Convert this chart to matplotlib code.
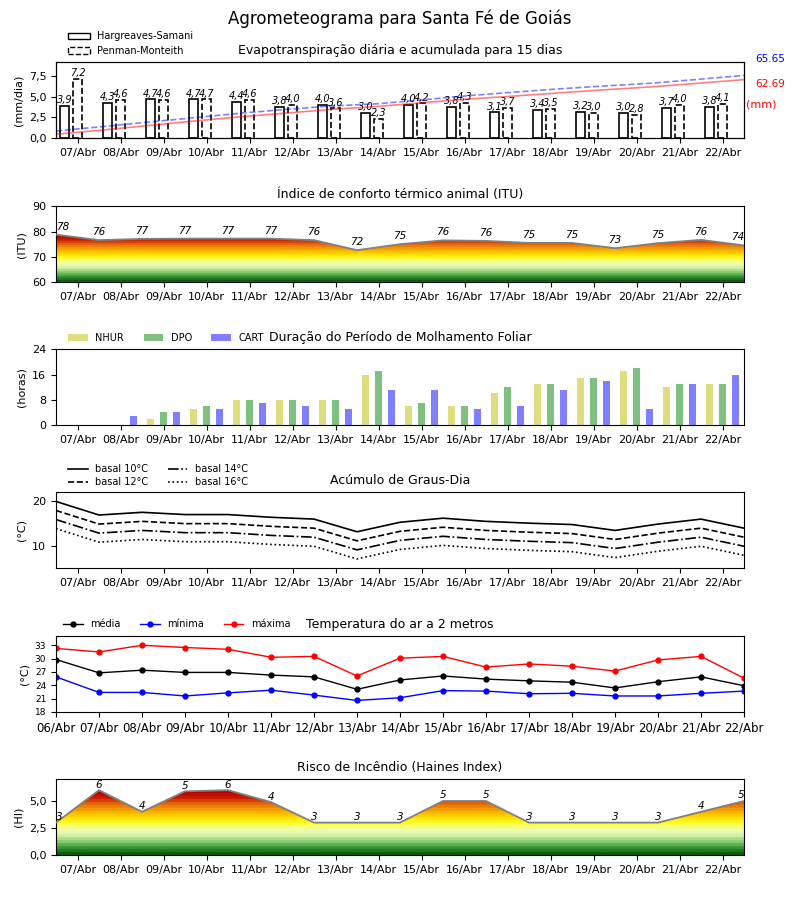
import numpy as np
import matplotlib
matplotlib.use('Agg')
import matplotlib.pyplot as plt
from matplotlib.patches import Patch
from matplotlib.colors import LinearSegmentedColormap


# Dados
dias = ['07/Abr', '08/Abr', '09/Abr', '10/Abr', '11/Abr', '12/Abr', '13/Abr', '14/Abr',
        '15/Abr', '16/Abr', '17/Abr', '18/Abr', '19/Abr', '20/Abr', '21/Abr', '22/Abr']
dias_temp = ['06/Abr'] + dias

et_hs = [3.9, 4.3, 4.7, 4.7, 4.4, 3.8, 4.0, 3.0, 4.0, 3.8, 3.1, 3.4, 3.2, 3.0, 3.7, 3.8]
et_pm = [7.2, 4.6, 4.6, 4.7, 4.6, 4.0, 3.6, 2.3, 4.2, 4.3, 3.7, 3.5, 3.0, 2.8, 4.0, 4.1]
total_pm = 65.65
total_hs = 62.69

itu = [78.8, 76.6, 77.1, 77.2, 77.2, 77.2, 76.6, 72.6, 75.0, 76.5, 76.3, 75.5,
       75.5, 73.4, 75.4, 76.7, 74.5]

nhur = [0, 0, 2, 5, 8, 8, 8, 16, 6, 6, 10, 13, 15, 17, 12, 13]
dpo = [0, 0, 4, 6, 8, 8, 8, 17, 7, 6, 12, 13, 15, 18, 13, 13]
cart = [0, 3, 4, 5, 7, 6, 5, 11, 11, 5, 6, 11, 14, 5, 13, 16]

gd10 = [19.8, 16.8, 17.4, 16.9, 16.9, 16.3, 15.9, 13.1, 15.2, 16.1, 15.4, 15.0,
        14.7, 13.4, 14.8, 15.9, 13.9]
gd12 = [17.8, 14.8, 15.4, 14.9, 14.9, 14.3, 13.9, 11.1, 13.2, 14.1, 13.4, 13.0,
        12.7, 11.4, 12.8, 13.9, 11.9]
gd14 = [15.8, 12.8, 13.4, 12.9, 12.9, 12.3, 11.9, 9.1, 11.2, 12.1, 11.4, 11.0,
        10.7, 9.4, 10.8, 11.9, 9.9]
gd16 = [13.8, 10.8, 11.4, 10.9, 10.9, 10.3, 9.9, 7.1, 9.2, 10.1, 9.4, 9.0,
        8.7, 7.4, 8.8, 9.9, 7.9]

t_med = [29.8, 26.8, 27.4, 26.9, 26.9, 26.3, 25.9, 23.1, 25.2, 26.1, 25.4, 25.0,
         24.7, 23.4, 24.8, 25.9, 23.9]
t_min = [25.9, 22.4, 22.4, 21.6, 22.3, 22.9, 21.8, 20.6, 21.2, 22.8, 22.7, 22.1,
         22.2, 21.6, 21.6, 22.2, 22.7]
t_max = [32.3, 31.5, 33.0, 32.5, 32.1, 30.3, 30.5, 26.1, 30.1, 30.5, 28.1, 28.8,
         28.3, 27.2, 29.7, 30.5, 25.6]

haines = [3.0, 6.0, 4.0, 5.9, 6.0, 4.9, 3.0, 3.0, 3.0, 5.0, 5.0, 3.0, 3.0, 3.0,
          3.0, 4.0, 5.0]


def virgula(v, fmt='{:.1f}'):
    return fmt.format(v).replace('.', ',')


cmap_risco = LinearSegmentedColormap.from_list(
    'risco', ['#0b5e0b', '#3a9a3a', '#8fcf70', '#d8f5b0', '#f4ffa8', '#ffff1a',
              '#ffd400', '#f5a300', '#e46a0a', '#cc1a00', '#b80000'], N=22)


def area_gradiente(ax, valores, ymin):
    x = np.arange(len(valores))
    topo = max(valores)
    grad = np.linspace(0, 1, 256).reshape(-1, 1)
    im = ax.imshow(grad, cmap=cmap_risco, origin='lower', aspect='auto',
                   extent=[0, len(valores) - 1, ymin, topo], zorder=1)
    poly = ax.fill_between(x, ymin, valores, facecolor='none', edgecolor='none')
    im.set_clip_path(poly.get_paths()[0], transform=ax.transData)
    ax.plot(x, valores, color='gray', lw=1.3, zorder=3)
    return x


def eixo_dias(ax):
    ax.set_xlim(0, len(dias))
    ax.set_xticks(np.arange(len(dias)) + 0.5)
    ax.set_xticklabels(dias, fontsize=8)


fig = plt.figure(figsize=(8, 9), dpi=100)
fig.suptitle('Agrometeograma para Santa Fé de Goiás', fontsize=12, y=0.99)

L, W, H = 0.07, 0.86, 0.084

# 1 - Evapotranspiração
ax1 = fig.add_axes([L, 0.8467, W, H])
xd = np.arange(len(dias))
ax1.bar(xd + 0.2, et_hs, width=0.22, facecolor='white', edgecolor='black', lw=1.2)
ax1.bar(xd + 0.5, et_pm, width=0.22, facecolor='white', edgecolor='black', lw=1.2,
        linestyle='--')
for i in range(len(dias)):
    ax1.text(xd[i] + 0.2, et_hs[i] + 0.1, virgula(et_hs[i]), ha='center', va='bottom',
             fontsize=7, style='italic')
    ax1.text(xd[i] + 0.5, et_pm[i] + 0.1, virgula(et_pm[i]), ha='center', va='bottom',
             fontsize=7, style='italic')
eixo_dias(ax1)
ax1.set_ylim(0, 9.2)
ax1.set_yticks([0, 2.5, 5, 7.5])
ax1.set_yticklabels([virgula(v) for v in [0, 2.5, 5, 7.5]], fontsize=8)
ax1.set_ylabel('(mm/dia)', fontsize=8)
ax1.set_title('Evapotranspiração diária e acumulada para 15 dias', fontsize=9)
ax1b = ax1.twinx()
xc = np.linspace(0, len(dias), len(dias))
ax1b.plot(xc, np.cumsum(et_hs), color='red', alpha=0.5, lw=1.2)
ax1b.plot(xc, np.cumsum(et_pm), color='blue', alpha=0.5, lw=1.2, linestyle='--')
ax1b.set_ylim(0, 1.2 * max(total_pm, total_hs))
ax1b.set_yticks([])
ax1b.set_xlim(0, len(dias))
ax1.text(1.016, 1.04, '{:.2f}'.format(total_pm), transform=ax1.transAxes, color='blue',
         fontsize=7.5, va='center')
ax1.text(1.016, 0.71, '{:.2f}'.format(total_hs), transform=ax1.transAxes, color='red',
         fontsize=7.5, va='center')
ax1.text(1.003, 0.44, '(mm)', transform=ax1.transAxes, color='red', fontsize=8,
         va='center')
ax1.legend(handles=[Patch(facecolor='white', edgecolor='black', label='Hargreaves-Samani'),
                    Patch(facecolor='white', edgecolor='black', linestyle='--',
                          label='Penman-Monteith')],
           loc='lower left', bbox_to_anchor=(0.012, 1.03), frameon=False, fontsize=7,
           borderaxespad=0, handlelength=2.2)

# 2 - ITU
ax2 = fig.add_axes([L, 0.6867, W, H])
x2 = area_gradiente(ax2, itu, 60)
for i, v in enumerate(itu):
    ha = 'left' if i == 0 else ('right' if i == len(itu) - 1 else 'center')
    ax2.text(x2[i], v + 1.2, str(int(v)), ha=ha, va='bottom', fontsize=7.5, style='italic')
eixo_dias(ax2)
ax2.set_ylim(60, 90)
ax2.set_yticks([60, 70, 80, 90])
ax2.tick_params(axis='y', labelsize=8)
ax2.set_ylabel('(ITU)', fontsize=8)
ax2.set_title('Índice de conforto térmico animal (ITU)', fontsize=9)

# 3 - Molhamento foliar
ax3 = fig.add_axes([L, 0.5278, W, H])
ax3.bar(xd + 0.2, nhur, width=0.16, color='y', alpha=0.5, label='NHUR')
ax3.bar(xd + 0.5, dpo, width=0.16, color='g', alpha=0.5, label='DPO')
ax3.bar(xd + 0.8, cart, width=0.16, color='b', alpha=0.5, label='CART')
eixo_dias(ax3)
ax3.set_ylim(0, 24)
ax3.set_yticks([0, 8, 16, 24])
ax3.tick_params(axis='y', labelsize=8)
ax3.set_ylabel('(horas)', fontsize=8)
ax3.set_title('Duração do Período de Molhamento Foliar', fontsize=9)
ax3.legend(loc='lower left', bbox_to_anchor=(0.012, 1.03), ncol=3, frameon=False,
           fontsize=7, borderaxespad=0, columnspacing=2.0)

# 4 - Graus-dia
ax4 = fig.add_axes([L, 0.3689, W, H])
x4 = np.arange(len(gd10))
ax4.plot(x4, gd10, 'k-', lw=1.2, label='basal 10°C')
ax4.plot(x4, gd12, 'k--', lw=1.2, label='basal 12°C')
ax4.plot(x4, gd14, 'k-.', lw=1.2, label='basal 14°C')
ax4.plot(x4, gd16, 'k:', lw=1.2, label='basal 16°C')
eixo_dias(ax4)
ax4.set_ylim(min(gd16) - 2, max(gd10) + 2)
ax4.set_yticks([10, 20])
ax4.tick_params(axis='y', labelsize=8)
ax4.set_ylabel('(°C)', fontsize=8)
ax4.set_title('Acúmulo de Graus-Dia', fontsize=9)
ax4.legend(loc='lower left', bbox_to_anchor=(0.012, 1.02), ncol=2, frameon=False,
           fontsize=7, borderaxespad=0, labelspacing=0.3)

# 5 - Temperatura
ax5 = fig.add_axes([L, 0.2089, W, H])
x5 = np.arange(len(t_med))
ax5.plot(x5, t_med, 'k-o', lw=1, ms=3.5, label='média')
ax5.plot(x5, t_min, 'b-o', lw=1, ms=3.5, label='mínima')
ax5.plot(x5, t_max, 'r-o', lw=1, ms=3.5, label='máxima')
ax5.set_xlim(0, len(t_med) - 1)
ax5.set_xticks(x5)
ax5.set_xticklabels(dias_temp, fontsize=8.5)
ax5.set_ylim(18, 35)
ax5.set_yticks([18, 21, 24, 27, 30, 33])
ax5.tick_params(axis='y', labelsize=6.5)
ax5.set_ylabel('(°C)', fontsize=8)
ax5.set_title('Temperatura do ar a 2 metros', fontsize=9)
ax5.legend(loc='lower left', bbox_to_anchor=(0.005, 1.04), ncol=3, frameon=False,
           fontsize=7, borderaxespad=0, columnspacing=2.0)

# 6 - Haines
ax6 = fig.add_axes([L, 0.05, W, H])
x6 = area_gradiente(ax6, haines, 0)
for i, v in enumerate(haines):
    ha = 'left' if i == 0 else ('right' if i == len(haines) - 1 else 'center')
    ax6.text(x6[i], v + 0.05, str(int(v)), ha=ha, va='bottom', fontsize=7.5, style='italic')
eixo_dias(ax6)
ax6.set_ylim(0, 7)
ax6.set_yticks([0, 2.5, 5])
ax6.set_yticklabels([virgula(v) for v in [0, 2.5, 5]], fontsize=8)
ax6.set_ylabel('(HI)', fontsize=8)
ax6.set_title('Risco de Incêndio (Haines Index)', fontsize=9)

fig.savefig('out.png', dpi=100)
